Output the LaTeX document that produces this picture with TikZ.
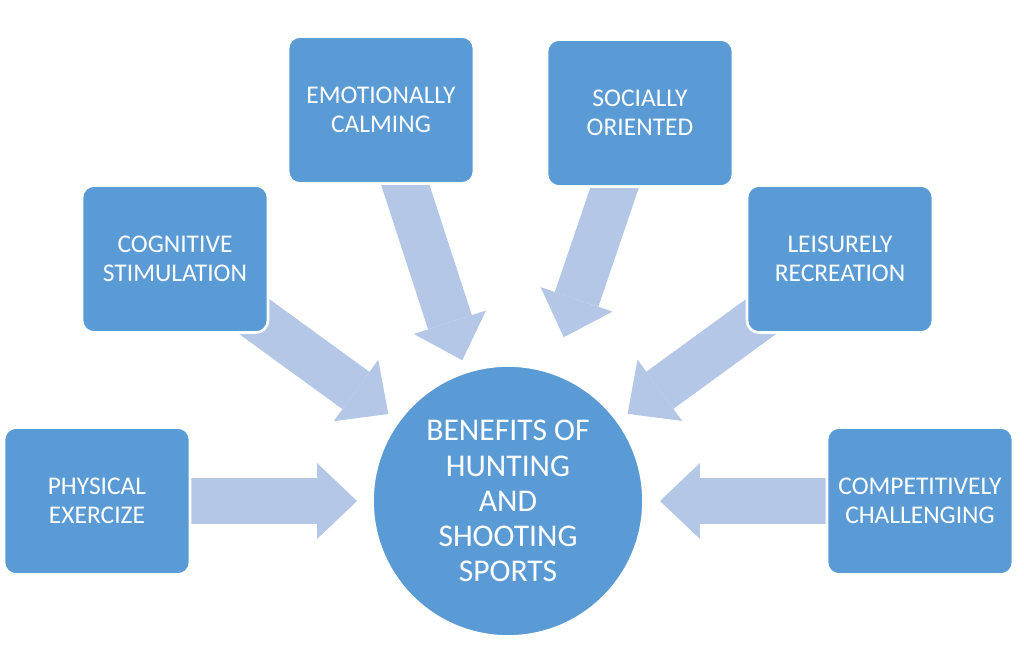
\documentclass[tikz,border=0pt]{standalone}
\usepackage{fontspec}
\setmainfont{Carlito}
\usepackage{tikz}
\usetikzlibrary{arrows.meta}
\definecolor{boxblue}{HTML}{5B9BD5}
\definecolor{arrowblue}{HTML}{B4C7E7}
\pgfdeclarelayer{background}
\pgfsetlayers{background,main}
\tikzstyle{block} = [rectangle, rounded corners=0.24cm, minimum width=3.72cm, minimum height=2.94cm, fill=boxblue, draw=white, line width=1.5pt, text=white, align=center, font=\fontsize{14.5}{16.5}\selectfont]
\tikzstyle{hub} = [circle, inner sep=0pt, minimum size=5.42cm, fill=boxblue, draw=white, line width=1.5pt, text=white, align=center, font=\fontsize{18}{20}\selectfont]
\tikzstyle{arrow} = [arrowblue, line width=0.92cm, -{Triangle[length=0.8cm, width=1.52cm, line width=0pt]}]

\begin{document}
\begin{tikzpicture}[x=0.02cm, y=-0.02cm]
		\useasboundingbox (0,0) rectangle (1024,671);
		\node (Benefits) [hub] at (508,501) {BENEFITS OF\\HUNTING\\AND\\SHOOTING\\SPORTS};
		\node (Physical) [block] at (97,501) {PHYSICAL\\EXERCIZE};
		\node (Cognitive) [block] at (175,259) {COGNITIVE\\STIMULATION};
		\node (Emotional) [block] at (381,110) {EMOTIONALLY\\CALMING};
		\node (Social) [block] at (640,113) {SOCIALLY\\ORIENTED};
		\node (Leisure) [block] at (840,259) {LEISURELY\\RECREATION};
		\node (Competitive) [block] at (920,501) {COMPETITIVELY\\CHALLENGING};
		\begin{pgfonlayer}{background}
		\draw [arrow, shorten >=3.02cm] (Physical.center) -- (Benefits.center);
		\draw [arrow, shorten >=2.96cm] (Cognitive.center) -- (Benefits.center);
		\draw [arrow, shorten >=2.96cm] (Emotional.center) -- (Benefits.center);
		\draw [arrow, shorten >=3.46cm] (Social.center) -- (Benefits.center);
		\draw [arrow, shorten >=2.96cm] (Leisure.center) -- (Benefits.center);
		\draw [arrow, shorten >=3.04cm] (Competitive.center) -- (Benefits.center);
		\end{pgfonlayer}
\end{tikzpicture}
\end{document}
